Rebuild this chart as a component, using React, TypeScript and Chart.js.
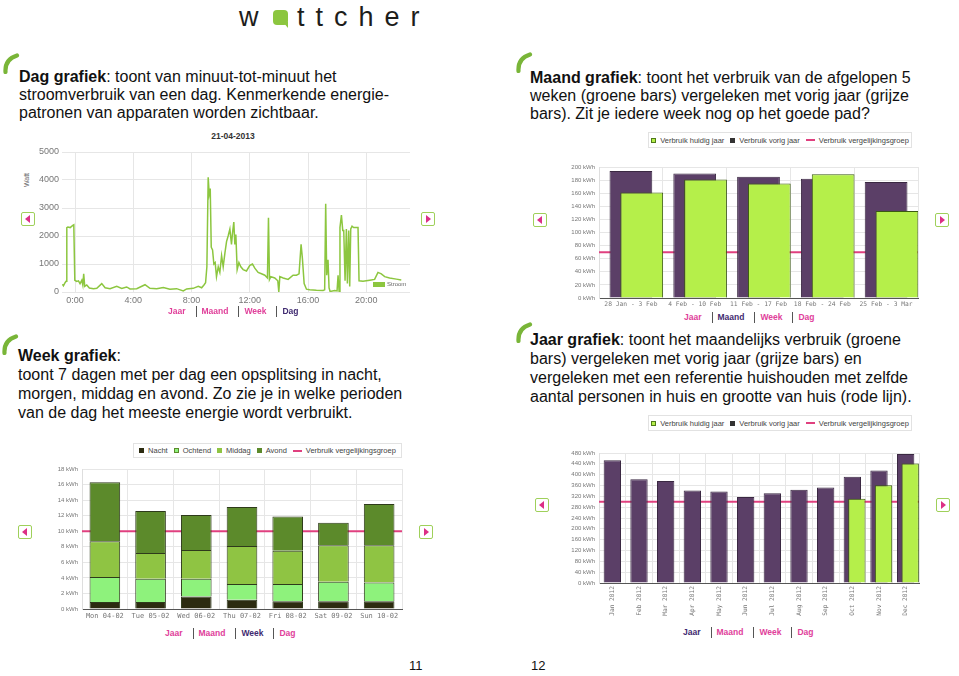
import React, { useEffect, useRef } from 'react';
import { Chart, registerables } from 'chart.js';

Chart.register(...registerables);

const FONT = '"Liberation Sans", Arial, Helvetica, sans-serif';
const MONO = '"DejaVu Sans Mono", "Liberation Mono", monospace';
Chart.defaults.font.family = FONT;

// ---------------- Day chart (Dag) ----------------
const dayTitle = '21-04-2013';
const dayUnit = 'Watt';
const daySeriesName = 'Stroom';
const dayHours = [
  -0.87, -0.8, -0.69, -0.62, -0.57, -0.5, -0.34, -0.16, -0.09, -0.02, 0.11, 0.23, 0.34, 0.46, 0.53, 0.59, 0.66, 0.8,
  0.98, 1.26, 1.49, 1.83, 2.06, 2.4, 2.86, 3.2, 3.54, 3.77, 4.23, 4.8, 5.14, 5.6, 6.06, 6.51, 6.97, 7.43, 7.66, 8.11,
  8.46, 8.69, 8.85, 8.96, 9.05, 9.14, 9.21, 9.28, 9.35, 9.44, 9.53, 9.62, 9.71, 9.83, 9.94, 10.06, 10.17, 10.29, 10.4,
  10.51, 10.63, 10.74, 10.81, 10.9, 10.97, 11.04, 11.13, 11.25, 11.38, 11.54, 11.77, 12.0, 12.18, 12.34, 12.57, 12.8,
  13.03, 13.21, 13.28, 13.35, 13.44, 13.71, 13.92, 13.99, 14.06, 14.29, 14.63, 14.97, 15.2, 15.38, 15.52, 15.61, 15.73,
  15.89, 16.11, 16.57, 17.03, 17.14, 17.21, 17.28, 17.37, 17.44, 17.51, 17.83, 17.99, 18.06, 18.13, 18.19, 18.29, 18.38,
  18.45, 18.54, 18.63, 18.7, 18.79, 18.86, 18.93, 19.02, 19.13, 19.43, 19.5, 19.77, 20.23, 20.57, 20.8, 21.03, 21.26,
  21.6, 22.06, 22.4,
];
const dayWatts = [
  280, 220, 330, 380, 2300, 2320, 2300, 2380, 2400, 420, 380, 400, 300, 420, 250, 650, 200, 250,
  140, 120, 130, 300, 150, 120, 200, 130, 180, 110, 120, 260, 130, 120, 160, 100, 120, 40, 110, 130,
  200, 150, 250, 330, 900, 4100, 3500, 3700, 1600, 1500, 1000, 1050, 550, 900, 700, 1300, 900, 1400, 1800,
  2000, 2250, 1700, 2100, 2500, 1700, 2050, 800, 1050, 900, 800, 750, 950, 1000, 850, 700, 650,
  600, 500, 2650, 450, 550, 500, 400, 0, 550, 500, 450, 600, 600, 650, 1700, 1200, 300,
  100, 80, 60, 50, 80, 3150, 600, 1150, 150, 20, 50, 40, 600, 30, 2300, 2750, 2200,
  2200, 400, 2250, 300, 2200, 200, 2250, 2350, 2300, 2300, 400, 380, 420, 450, 700, 650, 550,
  500, 460, 430,
];

// ---------------- Month chart (Maand) ----------------
const monthLabels = ['28 Jan - 3 Feb', '4 Feb - 10 Feb', '11 Feb - 17 Feb', '18 Feb - 24 Feb', '25 Feb - 3 Mar'];
const monthPrevYear = [194, 190, 185, 182, 177];
const monthThisYear = [161, 181, 175, 189, 133];
const monthCompare = 70;

// ---------------- Week chart ----------------
const weekLabels = ['Mon 04-02', 'Tue 05-02', 'Wed 06-02', 'Thu 07-02', 'Fri 08-02', 'Sat 09-02', 'Sun 10-02'];
const weekSeriesNames = ['Nacht', 'Ochtend', 'Middag', 'Avond'];
const weekNacht = [0.9, 0.9, 1.6, 1.2, 1.0, 1.0, 1.0];
const weekOchtend = [3.2, 3.0, 2.3, 2.0, 2.2, 2.5, 2.4];
const weekMiddag = [4.6, 3.3, 3.7, 4.9, 4.3, 4.7, 4.8];
const weekAvond = [7.6, 5.4, 4.5, 5.0, 4.4, 2.9, 5.3];
const weekCompare = 10;

// ---------------- Year chart (Jaar) ----------------
const yearLabels = ['Jan 2012', 'Feb 2012', 'Mar 2012', 'Apr 2012', 'May 2012', 'Jun 2012', 'Jul 2012', 'Aug 2012', 'Sep 2012', 'Oct 2012', 'Nov 2012', 'Dec 2012'];
const yearPrevYear = [453, 383, 377, 342, 338, 318, 331, 344, 353, 392, 415, 476];
const yearThisYear = [null, null, null, null, null, null, null, null, null, 311, 361, 441];
const yearCompare = 300;

const thisYearName = 'Verbruik huidig jaar';
const prevYearName = 'Verbruik vorig jaar';
const compareName = 'Verbruik vergelijkingsgroep';
const navItems = ['Jaar', 'Maand', 'Week', 'Dag'];

// ---------------- styles ----------------
const LIME = '#b5ef4a';
const LIME_EDGE = '#3c5a12';
const PURPLE = '#5b3f67';
const PURPLE_EDGE = '#3a2842';
const PINK = '#e0407f';
const DAYGREEN = '#8cc63f';
const WEEK_COLORS = ['#2c2b10', '#8ef27c', '#8fc443', '#5c8a2b'];
const GRID = '#e6e6e6';
const GREEN_SHIFT = 0.17;

const compareLinePlugin = {
  id: 'compareLine',
  beforeDatasetsDraw(chart: any, _args: any, opts: any) {
    if (!opts || opts.value == null) return;
    const { ctx, chartArea, scales } = chart;
    const y = scales.y.getPixelForValue(opts.value);
    ctx.save();
    ctx.strokeStyle = opts.color || PINK;
    ctx.lineWidth = opts.width || 2;
    ctx.beginPath();
    ctx.moveTo(chartArea.left, y);
    ctx.lineTo(chartArea.right, y);
    ctx.stroke();
    ctx.restore();
  },
};

const kwhTick = (v: any) => v + ' kWh';
const yTickFont = { size: 6, family: FONT };

function dayConfig(): any {
  return {
    type: 'line',
    data: {
      datasets: [
        {
          label: daySeriesName,
          data: dayHours.map((h, i) => ({ x: h, y: dayWatts[i] })),
          borderColor: DAYGREEN,
          borderWidth: 1.5,
          pointRadius: 0,
          tension: 0,
          fill: false,
        },
      ],
    },
    options: {
      responsive: false,
      animation: false,
      layout: { padding: { top: 12, right: 10, left: 0, bottom: 0 } },
      plugins: { legend: { display: false }, tooltip: { enabled: false } },
      scales: {
        x: {
          type: 'linear',
          min: -0.9,
          max: 23,
          ticks: { stepSize: 4, includeBounds: false, callback: (v: any) => v + ':00', color: '#777', font: { size: 9 }, padding: 3, maxRotation: 0 },
          grid: { color: GRID, drawTicks: false },
          border: { display: false },
          afterFit: (s: any) => { s.height = 18; },
        },
        y: {
          min: 0,
          max: 5000,
          ticks: { stepSize: 1000, callback: (v: any) => String(v), color: '#777', font: { size: 9 }, padding: 3 },
          grid: { color: GRID, drawTicks: false },
          border: { display: false },
          afterFit: (s: any) => { s.width = 42; },
        },
      },
    },
  };
}

function compareBarsConfig(labels: string[], prev: number[], cur: (number | null)[], compare: number, yMax: number, yStep: number, opt: any): any {
  const n = labels.length;
  return {
    type: 'bar',
    data: {
      labels,
      datasets: [
        {
          label: thisYearName,
          data: cur.map((v, i) => (v == null ? null : { x: i, y: v })).filter((d) => d !== null),
          xAxisID: 'xg',
          grouped: false,
          backgroundColor: LIME,
          borderColor: LIME_EDGE,
          borderWidth: 1,
          order: 0,
          categoryPercentage: opt.pct,
          barPercentage: 1,
        },
        {
          label: prevYearName,
          data: prev,
          xAxisID: 'x',
          grouped: false,
          backgroundColor: PURPLE,
          borderColor: PURPLE_EDGE,
          borderWidth: 1,
          order: 1,
          categoryPercentage: opt.pct,
          barPercentage: 1,
        },
      ],
    },
    plugins: [compareLinePlugin],
    options: {
      responsive: false,
      animation: false,
      layout: { padding: opt.padding },
      plugins: {
        legend: { display: false },
        tooltip: { enabled: false },
        compareLine: { value: compare, color: PINK, width: 2 },
      },
      scales: {
        x: {
          type: 'category',
          offset: true,
          grid: { color: GRID, offset: true, drawTicks: false },
          border: { color: '#555', width: 1 },
          ticks: {
            color: '#777',
            font: { size: opt.xFont, family: MONO },
            autoSkip: false,
            padding: 3,
            minRotation: opt.rot,
            maxRotation: opt.rot,
          },
          afterFit: (s: any) => { s.height = opt.xHeight; },
        },
        xg: {
          type: 'linear',
          display: false,
          offset: false,
          min: -0.5 - GREEN_SHIFT,
          max: n - 0.5 - GREEN_SHIFT,
          ticks: { stepSize: 1 },
          grid: { display: false },
        },
        y: {
          min: 0,
          max: yMax,
          ticks: { stepSize: yStep, callback: kwhTick, color: '#777', font: yTickFont, padding: 4 },
          grid: { color: GRID, drawTicks: false },
          border: { color: '#dedede' },
          afterFit: (s: any) => { s.width = 69; },
        },
      },
    },
  };
}

function monthConfig(): any {
  return compareBarsConfig(monthLabels, monthPrevYear, monthThisYear, monthCompare, 200, 20, {
    pct: 0.67,
    padding: { top: 12, right: 12, left: 0, bottom: 0 },
    xFont: 6.3,
    rot: 0,
    xHeight: 12,
  });
}

function yearConfig(): any {
  return compareBarsConfig(yearLabels, yearPrevYear, yearThisYear, yearCompare, 480, 40, {
    pct: 0.65,
    padding: { top: 8, right: 11, left: 0, bottom: 0 },
    xFont: 6.2,
    rot: 90,
    xHeight: 42,
  });
}

function weekConfig(): any {
  const series = [weekNacht, weekOchtend, weekMiddag, weekAvond];
  return {
    type: 'bar',
    data: {
      labels: weekLabels,
      datasets: series.map((d, i) => ({
        label: weekSeriesNames[i],
        data: d,
        backgroundColor: WEEK_COLORS[i],
        borderColor: '#2e3a1b',
        borderWidth: 1,
        categoryPercentage: 0.67,
        barPercentage: 1,
      })),
    },
    plugins: [compareLinePlugin],
    options: {
      responsive: false,
      animation: false,
      layout: { padding: { top: 9, right: 18, left: 0, bottom: 0 } },
      plugins: {
        legend: { display: false },
        tooltip: { enabled: false },
        compareLine: { value: weekCompare, color: PINK, width: 2 },
      },
      scales: {
        x: {
          stacked: true,
          grid: { color: GRID, offset: true, drawTicks: false },
          border: { color: '#555', width: 1 },
          ticks: { color: '#777', font: { size: 7, family: MONO }, autoSkip: false, padding: 3, maxRotation: 0 },
          afterFit: (s: any) => { s.height = 16; },
        },
        y: {
          stacked: true,
          min: 0,
          max: 18,
          ticks: { stepSize: 2, callback: kwhTick, color: '#777', font: yTickFont, padding: 4 },
          grid: { color: GRID, drawTicks: false },
          border: { color: '#dedede' },
          afterFit: (s: any) => { s.width = 62; },
        },
      },
    },
  };
}

function ChartCanvas({ left, top, width, height, config }: any) {
  const ref = useRef<HTMLCanvasElement>(null);
  useEffect(() => {
    const chart = new Chart(ref.current as HTMLCanvasElement, config());
    return () => chart.destroy();
  }, []);
  return <canvas ref={ref} width={width} height={height} style={{ position: 'absolute', left, top, width, height }} />;
}

function Arrow({ x, y, dir }: any) {
  const tri: any = {
    position: 'absolute',
    top: 2,
    left: dir === 'left' ? 3 : 4,
    width: 0,
    height: 0,
    borderTop: '4px solid transparent',
    borderBottom: '4px solid transparent',
  };
  if (dir === 'left') tri.borderRight = '5px solid #dc2f86';
  else tri.borderLeft = '5px solid #dc2f86';
  return (
    <div style={{ position: 'absolute', left: x - 7, top: y - 7, width: 12, height: 12, border: '1px solid #9fd05a', borderRadius: 2, background: '#fff' }}>
      <div style={tri} />
    </div>
  );
}

function Hook({ x, y }: any) {
  return (
    <svg style={{ position: 'absolute', left: x, top: y }} width={18} height={21} viewBox="0 0 18 21">
      <path d="M3.5 19 C3 11 7 5 15 2.5" stroke="#79b538" strokeWidth={4.2} fill="none" strokeLinecap="round" />
    </svg>
  );
}

function Nav({ left, top, active }: any) {
  return (
    <div style={{ position: 'absolute', left, top, height: 12, display: 'flex', alignItems: 'center', fontFamily: FONT, fontWeight: 'bold', fontSize: 8.5, whiteSpace: 'nowrap' }}>
      {navItems.map((n, i) => (
        <React.Fragment key={n}>
          {i > 0 && <span style={{ display: 'inline-block', width: 1, height: 11, background: '#555', margin: '0 5px 0 10px' }} />}
          <span style={{ color: n === active ? '#3f2a70' : '#e0409a' }}>{n}</span>
        </React.Fragment>
      ))}
    </div>
  );
}

function LegendBox({ left, top, width, height, items }: any) {
  return (
    <div style={{ position: 'absolute', left, top, width, height, border: '1px solid #e2e2e2', boxSizing: 'border-box', display: 'flex', alignItems: 'center', justifyContent: 'center', fontFamily: FONT, fontSize: 7.5, color: '#444', whiteSpace: 'nowrap', background: '#fff' }}>
      {items.map((it: any, i: number) => (
        <span key={i} style={{ display: 'inline-flex', alignItems: 'center', marginLeft: i ? 6 : 0 }}>
          {it.kind === 'square' ? (
            <span style={{ display: 'inline-block', width: 5, height: 5, background: it.fill, border: `1px solid ${it.stroke || it.fill}`, marginRight: 4, boxSizing: 'border-box' }} />
          ) : (
            <span style={{ display: 'inline-block', width: 9, height: 2, background: it.fill, marginRight: 4 }} />
          )}
          {it.label}
        </span>
      ))}
    </div>
  );
}

function TextBlock({ left, top, lh, lines }: any) {
  return (
    <div style={{ position: 'absolute', left, top, fontFamily: FONT, fontSize: 16, lineHeight: lh + 'px', color: '#111', whiteSpace: 'nowrap' }}>
      {lines.map((l: any, i: number) => (
        <div key={i}>{l}</div>
      ))}
    </div>
  );
}

const compareItems = [
  { label: thisYearName, kind: 'square', fill: LIME, stroke: '#4f7a1a' },
  { label: prevYearName, kind: 'square', fill: '#333' },
  { label: compareName, kind: 'line', fill: PINK },
];

const weekItems = [
  { label: weekSeriesNames[0], kind: 'square', fill: WEEK_COLORS[0] },
  { label: weekSeriesNames[1], kind: 'square', fill: WEEK_COLORS[1], stroke: '#5c8a2b' },
  { label: weekSeriesNames[2], kind: 'square', fill: WEEK_COLORS[2] },
  { label: weekSeriesNames[3], kind: 'square', fill: WEEK_COLORS[3] },
  { label: compareName, kind: 'line', fill: PINK },
];

export default function App() {
  return (
    <div style={{ position: 'absolute', left: 0, top: 0, width: 959, height: 676, background: '#fff', overflow: 'hidden' }}>
      {/* logo */}
      <div style={{ position: 'absolute', left: 239, top: 4, fontFamily: FONT, fontSize: 27, lineHeight: '27px', color: '#1d1d1b' }}>w</div>
      <div style={{ position: 'absolute', left: 273, top: 10, width: 15, height: 15, background: '#8cc63f', borderRadius: 4 }} />
      <div style={{ position: 'absolute', left: 283, top: 22, width: 0, height: 0, borderLeft: '5px solid transparent', borderTop: '6px solid #8cc63f' }} />
      <div style={{ position: 'absolute', left: 297, top: 4, fontFamily: FONT, fontSize: 27, lineHeight: '27px', letterSpacing: 11, color: '#1d1d1b', whiteSpace: 'nowrap' }}>ttcher</div>

      {/* text blocks */}
      <Hook x={2} y={53} />
      <TextBlock left={19} top={67.5} lh={18.3} lines={[
        <span><b>Dag grafiek</b>: toont van minuut-tot-minuut het</span>,
        'stroomverbruik van een dag. Kenmerkende energie-',
        'patronen van apparaten worden zichtbaar.',
      ]} />
      <Hook x={515} y={52} />
      <TextBlock left={530} top={69.3} lh={18} lines={[
        <span><b>Maand grafiek</b>: toont het verbruik van de afgelopen 5</span>,
        'weken (groene bars) vergeleken met vorig jaar (grijze',
        'bars). Zit je iedere week nog op het goede pad?',
      ]} />
      <Hook x={1} y={334} />
      <TextBlock left={18} top={347.3} lh={18.8} lines={[
        <span><b>Week grafiek</b>:</span>,
        'toont 7 dagen met per dag een opsplitsing in nacht,',
        'morgen, middag en avond. Zo zie je in welke perioden',
        'van de dag het meeste energie wordt verbruikt.',
      ]} />
      <Hook x={515} y={322} />
      <TextBlock left={530} top={331.3} lh={18.9} lines={[
        <span><b>Jaar grafiek</b>: toont het maandelijks verbruik (groene</span>,
        'bars) vergeleken met vorig jaar (grijze bars) en',
        'vergeleken met een referentie huishouden met zelfde',
        'aantal personen in huis en grootte van huis (rode lijn).',
      ]} />

      {/* Day chart */}
      <div style={{ position: 'absolute', left: 183, top: 131, width: 100, textAlign: 'center', fontFamily: FONT, fontWeight: 'bold', fontSize: 8.5, lineHeight: '11px', color: '#333' }}>{dayTitle}</div>
      <div style={{ position: 'absolute', left: 12, top: 175, width: 30, height: 10, lineHeight: '10px', textAlign: 'center', fontFamily: FONT, fontSize: 7, color: '#666', transform: 'rotate(-90deg)' }}>{dayUnit}</div>
      <ChartCanvas left={20} top={140} width={400} height={170} config={dayConfig} />
      <div style={{ position: 'absolute', left: 373, top: 282, width: 12, height: 5, background: DAYGREEN }} />
      <div style={{ position: 'absolute', left: 387, top: 280, fontFamily: FONT, fontSize: 6, lineHeight: '8px', color: '#666' }}>{daySeriesName}</div>
      <Nav left={168} top={305} active="Dag" />
      <Arrow x={28} y={219} dir="left" />
      <Arrow x={428} y={219} dir="right" />

      {/* Month chart */}
      <LegendBox left={648} top={132} width={264} height={16} items={compareItems} />
      <ChartCanvas left={530} top={155} width={400} height={155} config={monthConfig} />
      <Nav left={684} top={311} active="Maand" />
      <Arrow x={540} y={220} dir="left" />
      <Arrow x={942} y={220} dir="right" />

      {/* Week chart */}
      <LegendBox left={133} top={443} width={269} height={15} items={weekItems} />
      <ChartCanvas left={20} top={460} width={400} height={165} config={weekConfig} />
      <Nav left={165} top={627} active="Week" />
      <Arrow x={25} y={532} dir="left" />
      <Arrow x={426} y={532} dir="right" />

      {/* Year chart */}
      <LegendBox left={648} top={415} width={264} height={16} items={compareItems} />
      <ChartCanvas left={530} top={445} width={400} height={180} config={yearConfig} />
      <Nav left={683} top={626} active="Jaar" />
      <Arrow x={542} y={505} dir="left" />
      <Arrow x={943} y={505} dir="right" />

      {/* page numbers */}
      <div style={{ position: 'absolute', left: 409, top: 658, fontFamily: FONT, fontSize: 13, lineHeight: '15px', color: '#111' }}>11</div>
      <div style={{ position: 'absolute', left: 531, top: 658, fontFamily: FONT, fontSize: 13, lineHeight: '15px', color: '#111' }}>12</div>
    </div>
  );
}
